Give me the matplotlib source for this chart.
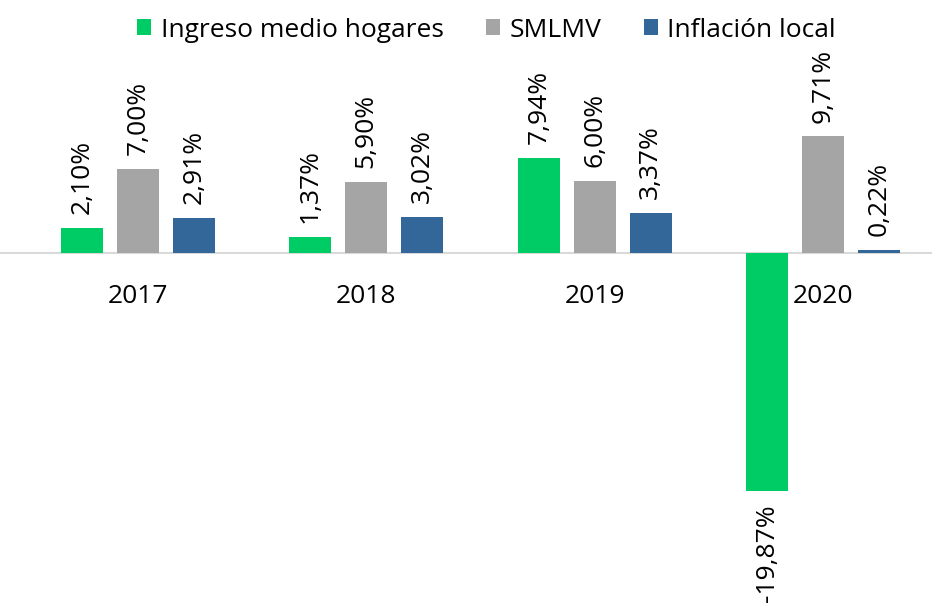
import matplotlib.pyplot as plt
import numpy as np

plt.rcParams['font.family'] = ['Open Sans', 'DejaVu Sans']

years = ['2017', '2018', '2019', '2020']
ingreso = [2.10, 1.37, 7.94, -19.87]
smlmv = [7.00, 5.90, 6.00, 9.71]
inflacion = [2.91, 3.02, 3.37, 0.22]

series = [('Ingreso medio hogares', ingreso, '#00CC66'),
          ('SMLMV', smlmv, '#A5A5A5'),
          ('Inflación local', inflacion, '#336699')]

fig = plt.figure(figsize=(9.32, 6.05), dpi=100)
ax = fig.add_axes([0, 0, 1, 1])

x = np.arange(len(years))
width = 0.184
offsets = [-0.245, 0, 0.245]

for (name, vals, color), off in zip(series, offsets):
    bars = ax.bar(x + off, vals, width, color=color, label=name)
    for b, v in zip(bars, vals):
        txt = f'{v:.2f}%'.replace('.', ',')
        if v >= 0:
            ax.annotate(txt, (b.get_x() + b.get_width() / 2, v), xytext=(0, 10),
                        textcoords='offset points', rotation=90, ha='center', va='bottom',
                        fontsize=19)
        else:
            ax.annotate(txt, (b.get_x() + b.get_width() / 2, v), xytext=(0, -9),
                        textcoords='offset points', rotation=90, ha='center', va='top',
                        fontsize=19)

ax.axhline(0, color='#D9D9D9', linewidth=1.5, zorder=0)

for xi, yr in zip(x, years):
    ax.text(xi, -3.6, yr, ha='center', va='center', fontsize=19)

ax.set_xlim(-0.603, 3.476)
ax.set_ylim(-29.33, 21.08)
ax.axis('off')

fig.legend(loc='center', bbox_to_anchor=(0.522, 0.95), ncol=3, frameon=False,
           fontsize=19, handlelength=0.55, handleheight=0.55, handletextpad=0.35,
           columnspacing=1.6, borderpad=0)

plt.savefig('out.png', dpi=100)
